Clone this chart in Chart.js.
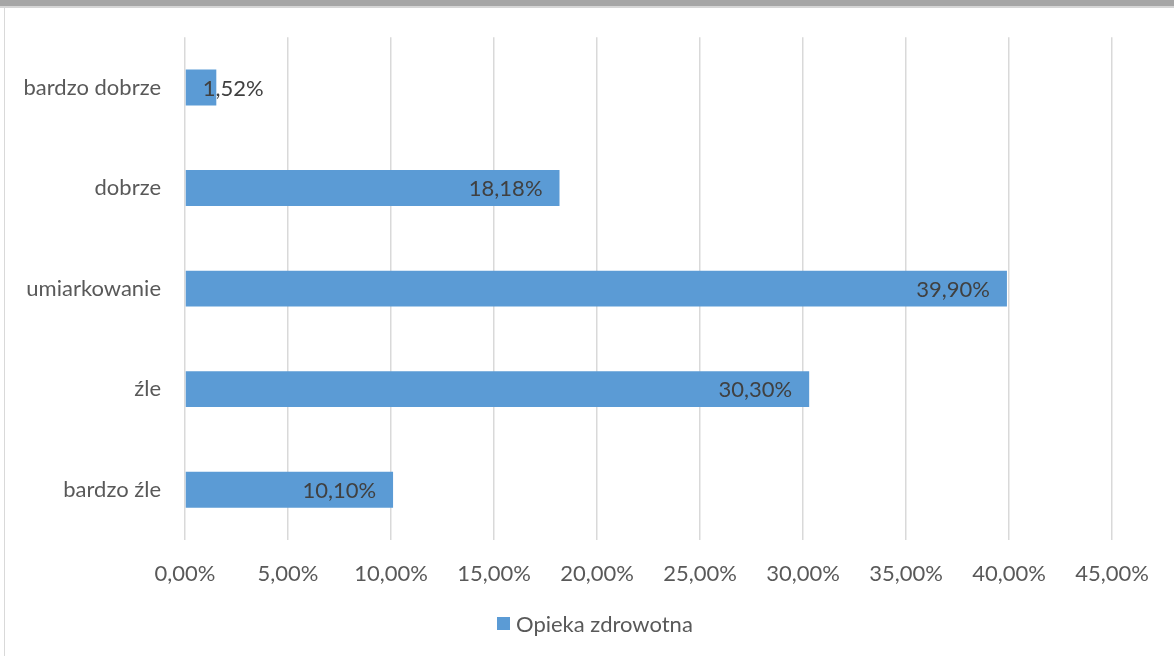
<!DOCTYPE html>
<html lang="pl">
<head>
<meta charset="utf-8">
<title>Opieka zdrowotna</title>
<script src="https://cdn.jsdelivr.net/npm/chart.js@4/dist/chart.umd.min.js"></script>
<style>
  html, body { margin: 0; padding: 0; background: #fff; overflow: hidden; }
  #wrap { position: relative; width: 1174px; height: 656px; }
  #chart { position: absolute; left: 0; top: 0; }
  .topbar { position: absolute; left: 0; top: 0; width: 1174px; height: 6px; background: #a6a6a6; border-bottom: 2px solid #d6d6d6; }
  .leftline { position: absolute; left: 4px; top: 8px; width: 1px; height: 648px; background: #d9d9d9; }
</style>
</head>
<body>
<div id="wrap">
  <canvas id="chart" width="1174" height="656"></canvas>
  <div class="topbar"></div>
  <div class="leftline"></div>
</div>
<script>
// dane
const categories = ['bardzo dobrze', 'dobrze', 'umiarkowanie', 'źle', 'bardzo źle'];
const values = [1.52, 18.18, 39.90, 30.30, 10.10];
const seriesName = 'Opieka zdrowotna';
const xMax = 45, xStep = 5;

const BLUE = '#5b9bd5', INK = '#595959', GRID = '#d9d9d9';
const FONT = 'Lato, "Open Sans", "DejaVu Sans", sans-serif';
const pct = v => v.toFixed(2).replace('.', ',') + '%';

// etykiety danych: wewnątrz końca słupka, prawe wyrównanie
const barLabels = {
  id: 'barLabels',
  afterDatasetsDraw(chart) {
    const { ctx } = chart;
    const meta = chart.getDatasetMeta(0);
    ctx.save();
    ctx.font = `22px ${FONT}`;
    ctx.fillStyle = '#404040';
    ctx.textAlign = 'right';
    ctx.textBaseline = 'middle';
    meta.data.forEach((bar, i) => {
      const txt = pct(values[i]);
      const w = ctx.measureText(txt).width;
      const x = Math.max(bar.x - 17, bar.base + 17 + w);
      ctx.fillText(txt, x, bar.y + 1);
    });
    ctx.restore();
  }
};

// legenda jak w Excelu: kwadrat tuż przy tekście, pod osią
const excelLegend = {
  id: 'excelLegend',
  afterDraw(chart) {
    const { ctx } = chart;
    ctx.save();
    ctx.font = `22px ${FONT}`;
    const box = 13, gap = 6;
    const w = box + gap + ctx.measureText(seriesName).width;
    const cx = chart.width / 2 + 8;
    const x0 = Math.round(cx - w / 2), y = 624;
    ctx.fillStyle = BLUE;
    ctx.fillRect(x0, y - 7, box, box);
    ctx.fillStyle = INK;
    ctx.textBaseline = 'middle';
    ctx.fillText(seriesName, x0 + box + gap, y + 1);
    ctx.restore();
  }
};

new Chart(document.getElementById('chart'), {
  type: 'bar',
  data: {
    labels: categories,
    datasets: [{
      label: seriesName,
      data: values,
      backgroundColor: BLUE,
      borderWidth: 0,
      categoryPercentage: 1,
      barPercentage: 0.357,
    }],
  },
  options: {
    indexAxis: 'y',
    responsive: false,
    animation: false,
    layout: { padding: { top: 36, right: 62, bottom: 54, left: 0 } },
    plugins: {
      legend: { display: false },
      tooltip: { enabled: false },
    },
    scales: {
      x: {
        min: 0, max: xMax,
        grid: { color: GRID, lineWidth: 1.5, drawTicks: false },
        border: { display: false },
        ticks: { stepSize: xStep, color: INK, font: { family: FONT, size: 22 }, padding: 21, callback: v => pct(v) },
        afterFit: s => { s.height = 62; },
      },
      y: {
        grid: { display: false, drawTicks: false },
        border: { display: false },
        ticks: { color: INK, font: { family: FONT, size: 22 }, padding: 24 },
        afterFit: s => { s.width = 185; },
      },
    },
  },
  plugins: [barLabels, excelLegend],
});
</script>
</body>
</html>
